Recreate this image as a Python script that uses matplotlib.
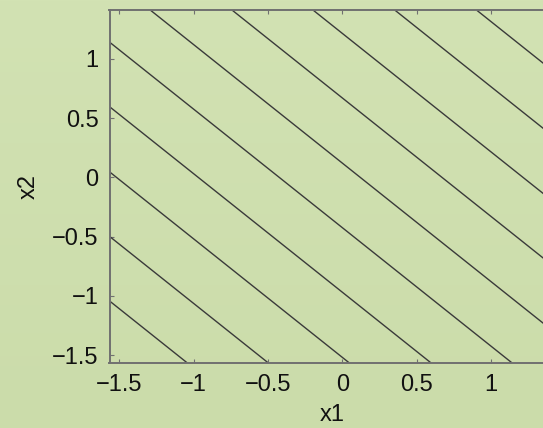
#!/usr/bin/env python3
"""Contour lines of a linear field, Matlab-ish look on a green slide background"""
import numpy as np
import matplotlib
matplotlib.use("Agg")
import matplotlib.pyplot as plt

plt.rcParams['font.family'] = ['Liberation Sans', 'DejaVu Sans']

# data
x_range = [-1.567, 1.427]
y_range = [-1.567, 1.413]
levels = [-2.61, -2.065, -1.52, -0.97, -0.425, 0.12, 0.67, 1.215, 1.765, 2.315, 2.86]
x_ticks = [-1.5, -1, -0.5, 0, 0.5, 1]
y_ticks = [-1.5, -1, -0.5, 0, 0.5, 1]
x_ticklabels = ['\u22121.5', '\u22121', '\u22120.5', '0', '0.5', '1']
y_ticklabels = ['\u22121.5', '\u22121', '\u22120.5', '0', '0.5', '1']

BG_TOP = np.array([0xd2, 0xe2, 0xb3]) / 255
BG_BOT = np.array([0xcb, 0xdc, 0xaa]) / 255
AX_COL = '#707070'
LINE_COL = '#3a3a3a'

fig = plt.figure(figsize=(5.43, 4.28), dpi=100)

# soft vertical gradient behind everything
t = np.linspace(0, 1, 428)[:, None, None]
grad = BG_TOP * (1 - t) + BG_BOT * t
grad = np.repeat(grad, 543, axis=1)
fig.figimage(grad, 0, 0, origin='upper', zorder=-10)

ax = fig.add_axes([109.5 / 543, 65 / 428, 445 / 543, 353 / 428])
ax.set_facecolor('none')

xs = np.linspace(x_range[0], x_range[1], 200)
ys = np.linspace(y_range[0], y_range[1], 200)
X1, X2 = np.meshgrid(xs, ys)
ax.contour(X1, X2, X1 + X2, levels=levels, colors=LINE_COL,
           linewidths=1.0, linestyles='solid')

ax.set_xlim(x_range)
ax.set_ylim(y_range)
ax.set_xticks(x_ticks, x_ticklabels)
ax.set_yticks(y_ticks, y_ticklabels)
ax.tick_params(direction='in', length=3, width=0.8, color=AX_COL,
               top=True, right=True, labelsize=17, pad=8, labelcolor='#111111')
for s in ax.spines.values():
    s.set_color(AX_COL)
    s.set_linewidth(1.4)

ax.set_xlabel('x1', fontsize=17, labelpad=6, color='#111111')
ax.set_ylabel('x2', fontsize=17, labelpad=9, color='#111111')

fig.savefig('out.png', dpi=100)
plt.close(fig)
